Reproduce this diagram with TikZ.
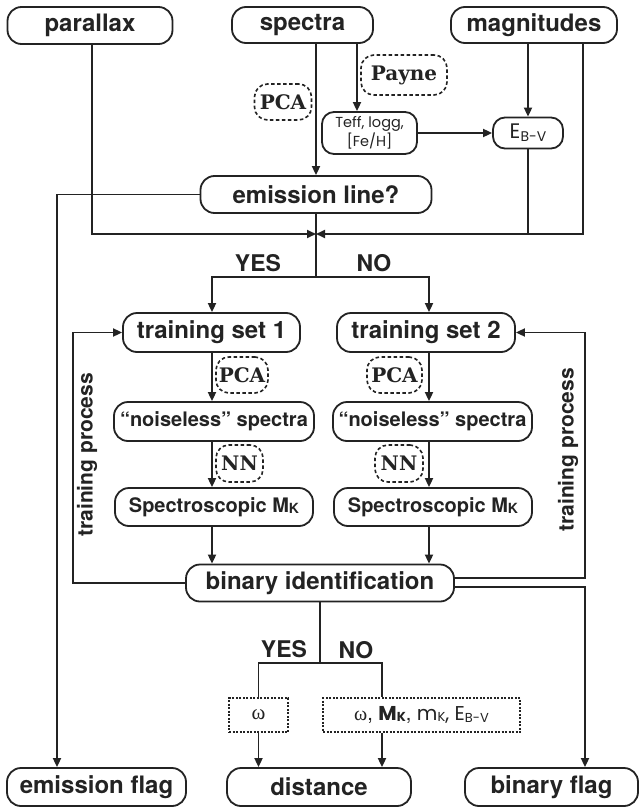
\documentclass[tikz,border=0pt]{standalone}
\usepackage{fontspec}
\setmainfont{TeX Gyre Heros}
\newfontfamily\geof{Poppins}
\newfontfamily\serf{Liberation Serif}
\newfontfamily\slabf{DejaVu Serif}
\usetikzlibrary{arrows.meta,calc}
\definecolor{ink}{RGB}{35,35,35}
\tikzset{
 box/.style={draw=ink, line width=1.8pt, rounded corners=14pt, inner sep=0pt, text=ink,
   font=\fontsize{24}{24}\selectfont\bfseries},
 midbox/.style={box, font=\fontsize{20}{20}\selectfont\bfseries},
 tag/.style={draw=ink, line width=1.6pt, dash pattern=on 3.5pt off 2.5pt, rounded corners=13pt,
   inner sep=0pt, text=ink, font=\slabf\bfseries\fontsize{20}{20}\selectfont},
 dotbox/.style={draw=ink, line width=1.6pt, dash pattern=on 2pt off 1.5pt, inner sep=0pt, text=ink},
 con/.style={draw=ink, line width=1.8pt},
 arr/.style={con, -{Triangle[length=9pt,width=8pt]}},
 lab/.style={text=ink, font=\fontsize{23}{23}\selectfont\bfseries, inner sep=0pt},
}
\begin{document}
\begin{tikzpicture}[x=1pt,y=-1pt]
\fill[white] (0,0) rectangle (642,808);
\useasboundingbox (0,0) rectangle (642,808);
% top row
\node[box, minimum width=165pt, minimum height=37pt] (par) at (90,25.5) {parallax};
\node[box, minimum width=141pt, minimum height=36pt] (spec) at (302.5,25) {spectra};
\node[box, minimum width=166pt, minimum height=36pt] (mag) at (534,25) {magnitudes};
\node[tag, minimum width=57pt, minimum height=36pt] (pca0) at (283,102) {PCA};
\node[tag, minimum width=86pt, minimum height=40pt] (payne) at (404,75) {Payne};
\node[box, rounded corners=12pt, minimum width=95pt, minimum height=42pt, align=center,
  font=\geof\fontsize{14.5}{17}\selectfont] (teff) at (369.5,133) {Teff, logg,\\\relax [Fe/H]};
\node[box, rounded corners=12pt, minimum width=70pt, minimum height=31pt, font=\geof\fontsize{21}{21}\selectfont]
  (ebv) at (528,133) {E\raisebox{-3pt}{\fontsize{14}{14}\selectfont B-V}};
\node[box, minimum width=231pt, minimum height=37pt] (emis) at (316,194.5) {emission line?};
% training
\node[box, minimum width=177pt, minimum height=39pt] (ts1) at (211.5,332.5) {training set 1};
\node[box, minimum width=178pt, minimum height=39pt] (ts2) at (426,332.5) {training set 2};
\node[tag, minimum width=52pt, minimum height=36pt] (pca1) at (242,375) {PCA};
\node[tag, minimum width=55pt, minimum height=36pt] (pca2) at (394.5,375) {PCA};
\node[midbox, minimum width=200pt, minimum height=39pt] (nl1) at (214,421.5) {“noiseless” spectra};
\node[midbox, minimum width=199pt, minimum height=39pt] (nl2) at (432.5,421.5) {“noiseless” spectra};
\node[tag, minimum width=47pt, minimum height=37pt] (nn1) at (239.5,463.5) {NN};
\node[tag, minimum width=48pt, minimum height=37pt] (nn2) at (399,463.5) {NN};
\node[midbox, minimum width=198pt, minimum height=38pt] (sp1) at (214,507)
  {Spectroscopic M\raisebox{-1pt}{\fontsize{14}{14}\selectfont K}};
\node[midbox, minimum width=198pt, minimum height=38pt] (sp2) at (433,507)
  {Spectroscopic M\raisebox{-1pt}{\fontsize{14}{14}\selectfont K}};
\node[box, minimum width=268pt, minimum height=37pt] (bi) at (320,583) {binary identification};
% bottom
\node[dotbox, minimum width=59pt, minimum height=34pt, font=\serf\fontsize{21}{21}\selectfont] (om1) at (258.5,715) {ω};
\node[dotbox, minimum width=197pt, minimum height=34pt, font=\fontsize{20}{20}\selectfont] (om2) at (421.5,715)
  {{\serf ω},\ {\geof\fontseries{sb}\selectfont M\raisebox{-1pt}{\fontsize{13}{13}\selectfont K}},\ {\geof m\raisebox{-1pt}{\fontsize{13}{13}\selectfont K},\ E\raisebox{-2pt}{\fontsize{13}{13}\selectfont B-V}}};
\node[box, minimum width=179pt, minimum height=38pt] (ef) at (96.5,787) {emission flag};
\node[box, minimum width=184pt, minimum height=38pt] (dist) at (319,787) {distance};
\node[box, minimum width=173pt, minimum height=38pt] (bf) at (551.5,787) {binary flag};
% labels
\node[lab] (yes1) at (258,263) {YES};
\node[lab] (no1) at (374,263) {NO};
\node[lab] (yes2) at (284,649) {YES};
\node[lab] (no2) at (356,650) {NO};
\node[lab, rotate=90, font=\fontsize{21}{21}\selectfont\bfseries] (tp1) at (87,455) {training process};
\node[lab, rotate=90, font=\fontsize{21}{21}\selectfont\bfseries] (tp2) at (568,450) {training process};
% coordinates
\coordinate (m) at (316,234);
\coordinate (split) at (316,277);
\coordinate (xs) at (357,0);
\coordinate (xr) at (583,0);
\coordinate (xp) at (92,0);
\coordinate (xe) at (57,0);
\coordinate (c1) at (212,0);
\coordinate (c2) at (429,0);
\coordinate (xl) at (73,0);
\coordinate (xr2) at (585,0);
\coordinate (yt) at (0,578);
\coordinate (yb) at (0,587);
\coordinate (s2) at (320,663);
\coordinate (c4) at (382,0);
% connectors top
\draw[arr] (spec.south -| emis.north) -- (emis.north);
\draw[arr] (spec.south -| xs) -- (teff.north -| xs);
\draw[arr] (teff.east) -- (ebv.west);
\draw[arr] (mag.south -| ebv.north) -- (ebv.north);
\draw[con] (ebv.south) -- (ebv.south |- m);
\draw[arr] (mag.south -| xr) -- (xr |- m) -- (m);
\draw[arr] (par.south -| xp) -- (xp |- m) -- (m);
\draw[arr] (emis.west) -- (emis.west -| xe) -- (ef.north -| xe);
\draw[con] (emis.south) -- (split);
\draw[arr] (split) -- (split -| c1) -- (ts1.north -| c1);
\draw[arr] (split) -- (split -| c2) -- (ts2.north -| c2);
% columns
\draw[arr] (ts1.south -| c1) -- (nl1.north -| c1);
\draw[arr] (nl1.south -| c1) -- (sp1.north -| c1);
\draw[arr] (sp1.south -| c1) -- (bi.north -| c1);
\draw[arr] (ts2.south -| c2) -- (nl2.north -| c2);
\draw[arr] (nl2.south -| c2) -- (sp2.north -| c2);
\draw[arr] (sp2.south -| c2) -- (bi.north -| c2);
% loops
\draw[arr] (bi.west) -- (bi.west -| xl) -- (ts1.west -| xl) -- (ts1.west);
\draw[arr] (bi.east |- yt) -- (xr2 |- yt) -- (xr2 |- ts2.east) -- (ts2.east);
\draw[arr] (bi.east |- yb) -- (xr2 |- yb) -- (bf.north -| xr2);
% bottom
\draw[con] (bi.south) -- (s2);
\draw[con] (s2) -- (s2 -| om1.north) -- (om1.north);
\draw[con] (s2) -- (s2 -| c4) -- (om2.north -| c4);
\draw[arr] (om1.south) -- (dist.north -| om1.south);
\draw[arr] (om2.south -| c4) -- (dist.north -| c4);
\end{tikzpicture}
\end{document}
